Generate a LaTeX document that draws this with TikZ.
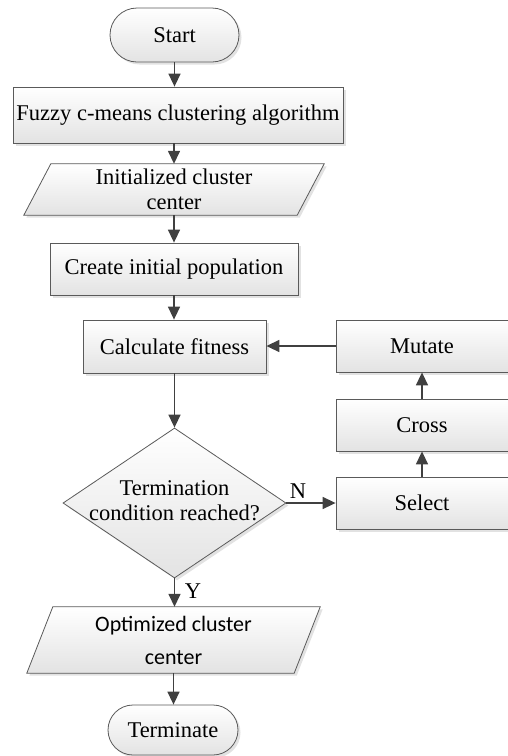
\documentclass[tikz,border=0pt]{standalone}
\usepackage{fontspec}
\setmainfont{Liberation Serif}
\newfontfamily\carlitofont{Carlito}
\usetikzlibrary{arrows.meta,shapes.geometric,shapes.misc,shadows,calc}

\definecolor{edgegray}{HTML}{5A5A5A}
\definecolor{arrowgray}{HTML}{404040}

\pgfdeclarelayer{bg}
\pgfsetlayers{bg,main}

\begin{document}
\begin{tikzpicture}[x=1pt,y=1pt,
  font=\fontsize{22.5}{25}\selectfont,
  shaded/.style={top color=white, bottom color=black!11, draw=edgegray, line width=0.8pt},
  softshadow/.style={drop shadow={shadow xshift=2.5pt, shadow yshift=-2.5pt, fill=black!25, opacity=0.45}},
  procbox/.style={shaded, softshadow, rectangle, inner sep=0pt, align=center},
  terminal/.style={shaded, softshadow, rounded rectangle, inner sep=0pt},
  iobox/.style={rectangle, inner sep=0pt, align=center},
  decision/.style={shaded, softshadow, diamond, inner sep=0pt},
  flow/.style={draw=arrowgray, line width=1.5pt, -{Triangle[length=13pt,width=12pt]}},
  tag/.style={inner sep=0pt}]

\useasboundingbox (0,0) rectangle (507,-756);

% main column
\node[terminal, minimum width=129pt, minimum height=54pt] (start) at (174.5,-35) {Start};
\node[procbox, minimum width=330pt, minimum height=56pt] (fcm) at (178,-115) {Fuzzy c-means clustering algorithm};
\node[iobox, minimum width=300pt, minimum height=51pt] (init) at (174,-189.5) {Initialized cluster\\center};
\node[procbox, minimum width=248pt, minimum height=52pt] (pop) at (174,-269) {Create initial population};
\node[procbox, minimum width=183pt, minimum height=53pt] (calc) at (174.5,-346.5) {Calculate fitness};
\node[decision, minimum width=223pt, minimum height=150pt] (cond) at (174.5,-503) {};
\node[align=center, inner sep=0pt] (condtext) at (174.5,-500.5) {Termination\\condition reached?};
\node[iobox, minimum width=293pt, minimum height=66pt,
      font=\carlitofont\fontsize{22}{33}\selectfont] (opt) at (173.5,-640) {Optimized cluster\\center};
\node[terminal, minimum width=130pt, minimum height=50pt] (term) at (173,-730) {Terminate};

% genetic operators column
\node[procbox, minimum width=172pt, minimum height=52pt] (mutate) at (422,-346) {Mutate};
\node[procbox, minimum width=172pt, minimum height=52pt] (cross) at (422,-425) {Cross};
\node[procbox, minimum width=172pt, minimum height=52pt] (select) at (422,-503) {Select};

% parallelogram outlines behind the input/output texts
\begin{pgfonlayer}{bg}
  \path[shaded, softshadow] ($(init.north west)+(27,0)$) -- (init.north east)
    -- ($(init.south east)-(27,0)$) -- (init.south west) -- cycle;
  \path[shaded, softshadow] ($(opt.north west)+(26,0)$) -- (opt.north east)
    -- ($(opt.south east)-(26,0)$) -- (opt.south west) -- cycle;
\end{pgfonlayer}

% branch labels
\node[tag] (nlabel) at (298,-491) {N};
\node[tag] (ylabel) at (193,-591) {Y};

% connectors
\draw[flow] (start.south) -- (start.south |- fcm.north);
\draw[flow] (init.north |- fcm.south) -- (init.north);
\draw[flow] (init.south) -- (pop.north);
\draw[flow] (pop.south) -- (pop.south |- calc.north);
\draw[flow] (calc.south) -- (cond.north);
\draw[flow] (cond.south) -- (cond.south |- opt.north);
\draw[flow] (opt.south) -- (opt.south |- term.north);
\draw[flow] (cond.east) -- (select.west);
\draw[flow] (select.north) -- (cross.south);
\draw[flow] (cross.north) -- (mutate.south);
\draw[flow] (mutate.west) -- (mutate.west -| calc.east);
\end{tikzpicture}
\end{document}
